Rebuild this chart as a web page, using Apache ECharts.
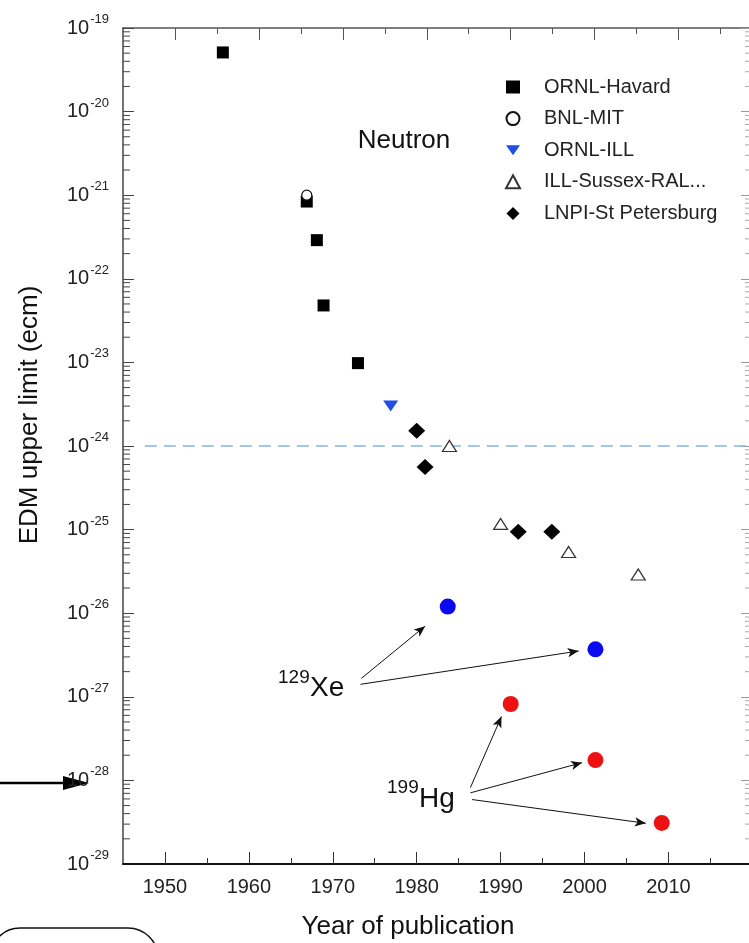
<!DOCTYPE html>
<html>
<head>
<meta charset="utf-8">
<title>EDM upper limit</title>
<script src="https://cdn.jsdelivr.net/npm/echarts@6/dist/echarts.min.js"></script>
</head>
<body style="margin:0;background:#fff">
<div id="main" style="width:749px;height:943px;"></div>
<script>
// neutron EDM limits
var ornlHavardYears  = [1956.9, 1966.9, 1968.1, 1968.9, 1973.0];
var ornlHavardLimits = [5.1e-20, 8.4e-22, 2.9e-22, 4.8e-23, 9.8e-24];
var bnlMitYears  = [1966.9];
var bnlMitLimits = [1.0e-21];
var ornlIllYears  = [1976.9];
var ornlIllLimits = [3.0e-24];
var illSussexYears  = [1983.9, 1990.0, 1998.1, 2006.4];
var illSussexLimits = [1.0e-24, 1.17e-25, 5.4e-26, 2.9e-26];
var lnpiYears  = [1980.0, 1981.0, 1992.1, 1996.1];
var lnpiLimits = [1.52e-24, 5.6e-25, 9.4e-26, 9.4e-26];
// atomic EDM limits
var xeYears  = [1983.7, 2001.3];
var xeLimits = [1.2e-26, 3.7e-27];
var hgYears  = [1991.2, 2001.3, 2009.2];
var hgLimits = [8.2e-28, 1.75e-28, 3.1e-29];

// annotation arrows [start, end]
var xeArrows = [
  [[1973.4, 1.66e-27], [1981.0, 7.0e-27]],
  [[1973.3, 1.41e-27], [1999.3, 3.53e-27]]
];
var hgArrows = [
  [[1986.4, 8.2e-29], [1990.1, 5.8e-28]],
  [[1986.4, 7.1e-29], [1999.7, 1.63e-28]],
  [[1986.6, 5.9e-29], [2007.3, 3.07e-29]]
];
var refLineYears = [1947.6, 2019.6];
var refLineLimit = 1e-24;

var xMin = 1945, xMax = 2019.6;
var topShift = 1.2;
var majorYears = [1950, 1960, 1970, 1980, 1990, 2000, 2010];
var minorYears = [1955, 1965, 1975, 1985, 1995, 2005, 2015];
var decadeLabels = [1e-29, 1e-28, 1e-27, 1e-26, 1e-25, 1e-24, 1e-23, 1e-22, 1e-21, 1e-20, 1e-19];
var tickDecades = [-29, -28, -27, -26, -25, -24, -23, -22, -21, -20];
var tickMultipliers = [2, 3, 4, 5, 6, 7, 8, 9];

var FONT = 'Liberation Sans, Arial, sans-serif';

function pairs(xs, ys) {
  return xs.map(function (x, i) { return [x, ys[i]]; });
}
var minorTickVals = [];
tickDecades.forEach(function (d) {
  tickMultipliers.forEach(function (m) { minorTickVals.push(m * Math.pow(10, d)); });
});

var myChart = echarts.init(document.getElementById('main'));
var option = {
  animation: false,
  backgroundColor: '#fff',
  textStyle: { fontFamily: FONT },
  grid: { left: 123, right: 0, top: 28, bottom: 79, outerBoundsMode: 'none', containLabel: false },
  legend: {
    data: [
      { name: 'ORNL-Havard', icon: 'rect' },
      { name: 'BNL-MIT', icon: 'circle' },
      { name: 'ORNL-ILL', icon: 'path://M0,0 L14,0 L7,10 Z' },
      { name: 'ILL-Sussex-RAL...' },
      { name: 'LNPI-St Petersburg', icon: 'path://M8,0 L16,8 L8,16 L0,8 Z' }
    ],
    orient: 'vertical',
    left: 500,
    top: 72,
    itemWidth: 14,
    itemHeight: 13,
    itemGap: 11.6,
    textStyle: { fontSize: 20, color: '#222', lineHeight: 20, padding: [0, 0, 0, 19], fontFamily: FONT }
  },
  xAxis: [
    {
      type: 'value', min: xMin, max: xMax, position: 'bottom',
      axisLine: { onZero: false, lineStyle: { color: '#111', width: 2 } },
      axisTick: { inside: true, length: 12, customValues: majorYears, lineStyle: { color: '#333', width: 1 } },
      axisLabel: { customValues: majorYears, fontSize: 20, color: '#222', margin: 13, fontFamily: FONT,
                   formatter: function (v) { return String(v); } },
      splitLine: { show: false }
    },
    {
      type: 'value', min: xMin, max: xMax, position: 'bottom',
      axisLine: { show: false, onZero: false },
      axisTick: { inside: true, length: 6, customValues: minorYears, lineStyle: { color: '#333' } },
      axisLabel: { show: false },
      splitLine: { show: false }
    },
    {
      type: 'value', min: xMin - topShift, max: xMax - topShift, position: 'top',
      axisLine: { onZero: false, lineStyle: { color: '#555', width: 1.5 } },
      axisTick: { inside: true, length: 12, customValues: majorYears, lineStyle: { color: '#555' } },
      axisLabel: { show: false },
      splitLine: { show: false }
    },
    {
      type: 'value', min: xMin - topShift, max: xMax - topShift, position: 'top',
      axisLine: { show: false, onZero: false },
      axisTick: { inside: true, length: 6, customValues: minorYears, lineStyle: { color: '#555' } },
      axisLabel: { show: false },
      splitLine: { show: false }
    }
  ],
  yAxis: [
    {
      type: 'log', logBase: 10, min: 1e-29, max: 1e-19, splitNumber: 10, position: 'left',
      axisLine: { onZero: false, lineStyle: { color: '#444', width: 1.5 } },
      axisTick: { inside: true, length: 11, lineStyle: { color: '#444' } },
      axisLabel: {
        customValues: decadeLabels,
        margin: 14,
        showMinLabel: true,
        showMaxLabel: true,
        hideOverlap: false,
        formatter: function (v) {
          return '{b|10}{e|' + Math.round(Math.log10(v)) + '}';
        },
        rich: {
          b: { fontSize: 20, lineHeight: 20, color: '#222', verticalAlign: 'middle', fontFamily: FONT },
          e: { fontSize: 13, lineHeight: 13, color: '#222', padding: [0, 0, 17, 1], verticalAlign: 'middle', fontFamily: FONT }
        }
      },
      splitLine: { show: false }
    },
    {
      type: 'log', logBase: 10, min: 1e-29, max: 1e-19, splitNumber: 10, position: 'right',
      axisLine: { show: false, onZero: false },
      axisTick: { inside: true, length: 8, lineStyle: { color: '#999' } },
      axisLabel: { show: false },
      splitLine: { show: false }
    }
  ],
  series: [
    {
      // minor log ticks on left and right frame
      type: 'custom', silent: true, clip: false, z: 1,
      data: minorTickVals.map(function (v) { return [xMin, v]; }),
      renderItem: function (params, api) {
        var v = api.value(1);
        var l = api.coord([xMin, v]);
        var r = api.coord([xMax, v]);
        return {
          type: 'group',
          children: [
            { type: 'line', shape: { x1: l[0], y1: l[1], x2: l[0] + 7, y2: l[1] }, style: { stroke: '#444', lineWidth: 1 } },
            { type: 'line', shape: { x1: r[0] - 4, y1: r[1], x2: r[0], y2: r[1] }, style: { stroke: '#aaa', lineWidth: 1 } }
          ]
        };
      }
    },
    {
      name: 'ref', type: 'line', silent: true, showSymbol: false, z: 1,
      data: [[refLineYears[0], refLineLimit], [refLineYears[1], refLineLimit]],
      lineStyle: { color: '#86b4e4', width: 1.6, type: [12, 7] }
    },
    {
      name: 'ORNL-Havard', type: 'scatter', symbol: 'rect', symbolSize: 12,
      itemStyle: { color: '#000', opacity: 1 },
      data: pairs(ornlHavardYears, ornlHavardLimits)
    },
    {
      name: 'BNL-MIT', type: 'scatter', symbol: 'circle', symbolSize: 10,
      itemStyle: { color: '#fff', borderColor: '#111', borderWidth: 1.2, opacity: 1 },
      data: pairs(bnlMitYears, bnlMitLimits)
    },
    {
      name: 'ORNL-ILL', type: 'scatter', symbol: 'triangle', symbolRotate: 180, symbolSize: [15, 11],
      itemStyle: { color: '#1f4fe6', opacity: 1 },
      data: pairs(ornlIllYears, ornlIllLimits)
    },
    {
      name: 'ILL-Sussex-RAL...', type: 'scatter', symbol: 'triangle', symbolSize: [14, 11],
      itemStyle: { color: '#fff', borderColor: '#333', borderWidth: 1.2, opacity: 1 },
      data: pairs(illSussexYears, illSussexLimits)
    },
    {
      name: 'LNPI-St Petersburg', type: 'scatter', symbol: 'diamond', symbolSize: [17, 16],
      itemStyle: { color: '#000', opacity: 1 },
      data: pairs(lnpiYears, lnpiLimits)
    },
    {
      name: '129Xe', type: 'scatter', symbol: 'circle', symbolSize: 16,
      itemStyle: { color: '#0a0af0', opacity: 1 },
      data: pairs(xeYears, xeLimits),
      markLine: {
        silent: true, symbol: ['none', 'arrow'], symbolSize: [7, 11],
        label: { show: false },
        lineStyle: { color: '#111', width: 1, type: 'solid' },
        data: xeArrows.map(function (a) { return [{ coord: a[0] }, { coord: a[1] }]; })
      }
    },
    {
      name: '199Hg', type: 'scatter', symbol: 'circle', symbolSize: 16,
      itemStyle: { color: '#ee1111', opacity: 1 },
      data: pairs(hgYears, hgLimits),
      markLine: {
        silent: true, symbol: ['none', 'arrow'], symbolSize: [7, 11],
        label: { show: false },
        lineStyle: { color: '#111', width: 1, type: 'solid' },
        data: hgArrows.map(function (a) { return [{ coord: a[0] }, { coord: a[1] }]; })
      }
    }
  ],
  graphic: [
    { type: 'text', x: 30, y: 415, rotation: Math.PI / 2,
      style: { text: 'EDM upper limit (ecm)', fontSize: 26, fontFamily: FONT, fill: '#111',
               align: 'center', verticalAlign: 'middle', textAlign: 'center', textVerticalAlign: 'middle' } },
    { type: 'text', x: 408, y: 927,
      style: { text: 'Year of publication', fontSize: 26, fontFamily: FONT, fill: '#111',
               align: 'center', verticalAlign: 'middle', textAlign: 'center', textVerticalAlign: 'middle' } },
    { type: 'text', x: 404, y: 141,
      style: { text: 'Neutron', fontSize: 26, fontFamily: FONT, fill: '#111',
               align: 'center', verticalAlign: 'middle', textAlign: 'center', textVerticalAlign: 'middle' } },
    { type: 'text', x: 278, y: 678,
      style: { text: '129', fontSize: 19, fontFamily: FONT, fill: '#111',
               align: 'left', verticalAlign: 'middle', textAlign: 'left', textVerticalAlign: 'middle' } },
    { type: 'text', x: 310, y: 688,
      style: { text: 'Xe', fontSize: 28, fontFamily: FONT, fill: '#111',
               align: 'left', verticalAlign: 'middle', textAlign: 'left', textVerticalAlign: 'middle' } },
    { type: 'text', x: 387, y: 788,
      style: { text: '199', fontSize: 19, fontFamily: FONT, fill: '#111',
               align: 'left', verticalAlign: 'middle', textAlign: 'left', textVerticalAlign: 'middle' } },
    { type: 'text', x: 419, y: 799,
      style: { text: 'Hg', fontSize: 28, fontFamily: FONT, fill: '#111',
               align: 'left', verticalAlign: 'middle', textAlign: 'left', textVerticalAlign: 'middle' } },
    // stray marks at the page edge of the scanned figure
    { type: 'line', shape: { x1: 0, y1: 783, x2: 66, y2: 783 }, style: { stroke: '#000', lineWidth: 2.5 } },
    { type: 'polygon', shape: { points: [[63, 776], [89, 783], [63, 790]] }, style: { fill: '#000' } },
    { type: 'rect', shape: { x: -10, y: 928, width: 168, height: 60, r: 30 }, style: { fill: 'none', stroke: '#111', lineWidth: 1.5 } }
  ]
};
myChart.setOption(option);
</script>
</body>
</html>
